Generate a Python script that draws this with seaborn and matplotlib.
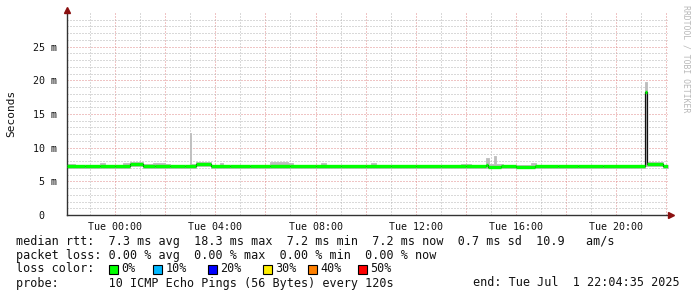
import matplotlib
matplotlib.use("Agg")
import matplotlib.pyplot as plt
from matplotlib.ticker import FixedLocator, FuncFormatter
from matplotlib.patches import Rectangle
import seaborn as sns
import numpy as np

# ---------------- data (hours relative to Tue 00:00) ----------------
start_h = -1.924   # Mon 22:04:35
end_h = 22.076     # Tue 22:04:35

med_t = [-1.92, -1.2, -0.6, 0.0, 0.6, 1.12, 1.6, 2.2, 2.8, 3.24, 3.84, 4.6, 5.4,
         6.2, 7.0, 8.0, 9.0, 10.0, 11.0, 12.0, 13.0, 14.0, 14.8, 14.9, 15.4,
         16.0, 16.75, 17.7, 18.5, 19.5, 21.16, 21.22, 21.88]
med_v = [7.3, 7.25, 7.3, 7.35, 7.6, 7.35, 7.3, 7.25, 7.3, 7.6, 7.3, 7.25, 7.35,
         7.3, 7.25, 7.3, 7.35, 7.3, 7.25, 7.3, 7.35, 7.3, 7.45, 7.2, 7.3,
         7.2, 7.35, 7.3, 7.25, 7.3, 18.3, 7.6, 7.3]

smoke_t = [-1.92, -1.6, -0.6, -0.4, 0.3, 0.6, 1.12, 1.5, 2.0, 2.2, 2.98, 3.04,
           3.24, 3.84, 4.2, 4.3, 6.2, 6.6, 6.9, 7.1, 8.2, 8.4, 10.2, 10.4,
           13.8, 14.2, 14.82, 14.92, 15.12, 15.22, 15.5, 16.6, 16.8, 21.17,
           21.22, 21.88]
smoke_hi = [7.6, 7.5, 7.65, 7.5, 7.7, 7.85, 7.55, 7.7, 7.55, 7.5, 12.2, 7.55,
            7.85, 7.5, 7.7, 7.5, 7.8, 7.8, 7.75, 7.5, 7.7, 7.5, 7.65, 7.5,
            7.6, 7.5, 8.4, 7.6, 8.7, 7.6, 7.5, 7.65, 7.5, 19.7, 7.8, 7.5]
smoke_lo = [7.0, 7.0, 7.0, 7.0, 7.0, 7.3, 7.0, 7.0, 7.0, 7.0, 7.0, 7.0,
            7.3, 7.0, 7.0, 7.0, 7.0, 7.0, 7.0, 7.0, 7.0, 7.0, 7.0, 7.0,
            7.0, 7.0, 7.0, 7.0, 7.0, 7.0, 7.0, 7.0, 7.0, 7.3, 7.3, 7.0]

x_tick_hours = [0, 4, 8, 12, 16, 20]
x_tick_labels = ["Tue 00:00", "Tue 04:00", "Tue 08:00", "Tue 12:00",
                 "Tue 16:00", "Tue 20:00"]
y_tick_values = [0, 5, 10, 15, 20, 25]
y_tick_labels = ["0  ", "5 m", "10 m", "15 m", "20 m", "25 m"]

loss_labels = ["0%", "10%", "20%", "30%", "40%", "50%"]
loss_colors = ["#00ff00", "#00b8ff", "#0000ff", "#ffee00", "#ff8000", "#ff0000"]

legend_lines = [
    "median rtt:  7.3 ms avg  18.3 ms max  7.2 ms min  7.2 ms now  0.7 ms sd  10.9   am/s",
    "packet loss: 0.00 % avg  0.00 % max  0.00 % min  0.00 % now",
    "loss color:",
    "probe:       10 ICMP Echo Pings (56 Bytes) every 120s",
]
end_text = "end: Tue Jul  1 22:04:35 2025"

# ---------------- figure ----------------
sns.set_theme(style="white")
plt.rcParams["font.family"] = ["DejaVu Sans Mono", "DejaVu Sans"]

W, H = 697, 297
fig = plt.figure(figsize=(W / 100, H / 100), dpi=100)
fig.patch.set_facecolor("white")
ax = fig.add_axes([67 / W, (H - 215) / H, 601 / W, 202 / H])
ax.set_facecolor("white")

# smoke
st = np.array(smoke_t + [end_h])
ax.fill_between(st, smoke_lo + [smoke_lo[-1]], smoke_hi + [smoke_hi[-1]],
                step="post", facecolor="#bdbdbd", edgecolor="#bdbdbd",
                linewidth=0.6, zorder=2)

# median: black step connectors, green horizontal segments
mt = np.array(med_t + [end_h])
mv = np.array(med_v + [med_v[-1]])
sns.lineplot(x=mt, y=mv, drawstyle="steps-post", color="#111111",
             linewidth=0.9, ax=ax, zorder=3, sort=False)
ax.hlines(med_v, mt[:-1], mt[1:], color="#00ff00", linewidth=2.4, zorder=4,
          capstyle="butt")

ax.set_xlim(start_h, end_h)
ax.set_ylim(0, 30)

# ticks & grid
lab_map = dict(zip(x_tick_hours, x_tick_labels))
ax.xaxis.set_major_locator(FixedLocator(list(range(0, 23, 2))))
ax.xaxis.set_minor_locator(FixedLocator(list(range(-1, 23, 1))))
ax.xaxis.set_major_formatter(FuncFormatter(lambda v, p: lab_map.get(int(round(v)), "")))
ax.yaxis.set_major_locator(FixedLocator(y_tick_values))
ax.yaxis.set_minor_locator(FixedLocator(list(range(1, 30))))
ax.set_yticklabels(y_tick_labels)

ax.grid(which="minor", color="#b4b4b4", linestyle=(0, (1, 2)), linewidth=0.72, zorder=0)
ax.grid(which="major", color="#e08a8a", linestyle=(0, (1, 2)), linewidth=0.72, zorder=0)
ax.set_axisbelow(True)

ax.tick_params(which="major", length=3, width=0.7, color="#555555",
               labelsize=7.2, labelcolor="#111111", direction="out")
ax.tick_params(which="minor", length=2, width=0.7, color="#888888", direction="out")
ax.tick_params(axis="x", which="major", pad=2)
ax.tick_params(axis="y", which="major", pad=4)

for s in ["top", "right"]:
    ax.spines[s].set_visible(False)
for s in ["left", "bottom"]:
    ax.spines[s].set_color("#333333")
    ax.spines[s].set_linewidth(1.0)

# arrows
ax.plot([0], [1 + 3 / 202], marker="^", markersize=4.5, color="#8b1010",
        transform=ax.transAxes, clip_on=False, zorder=6)
ax.plot([1 + 3 / 601], [0], marker=">", markersize=4.5, color="#8b1010",
        transform=ax.transAxes, clip_on=False, zorder=6)

# y label and watermark
fig.text(11 / W, 1 - 113 / H, "Seconds", rotation=90, va="center", ha="center",
         fontsize=8, color="#111111")
fig.text(686 / W, 1 - 59 / H, "RRDTOOL / TOBI OETIKER", rotation=270,
         va="center", ha="center", fontsize=5.9, color="#b8b8b8")

# legend text
row_y = [241, 255, 269, 283]
for line, yy in zip(legend_lines, row_y):
    fig.text(16 / W, 1 - yy / H, line, va="center", ha="left", fontsize=8.5,
             color="#111111")
fig.text(680 / W, 1 - row_y[3] / H, end_text, va="center", ha="right",
         fontsize=8.5, color="#111111")

box_x = [108.5, 153, 208, 263, 308, 358]
for bx, lab, col in zip(box_x, loss_labels, loss_colors):
    fig.patches.append(Rectangle((bx / W, 1 - (row_y[2] + 4.5) / H), 9 / W, 9 / H,
                                 transform=fig.transFigure, facecolor=col,
                                 edgecolor="#000000", linewidth=0.8))
    fig.text((bx + 12.5) / W, 1 - row_y[2] / H, lab, va="center", ha="left",
             fontsize=8.5, color="#111111")

fig.savefig("out.png", dpi=100, facecolor="white")
